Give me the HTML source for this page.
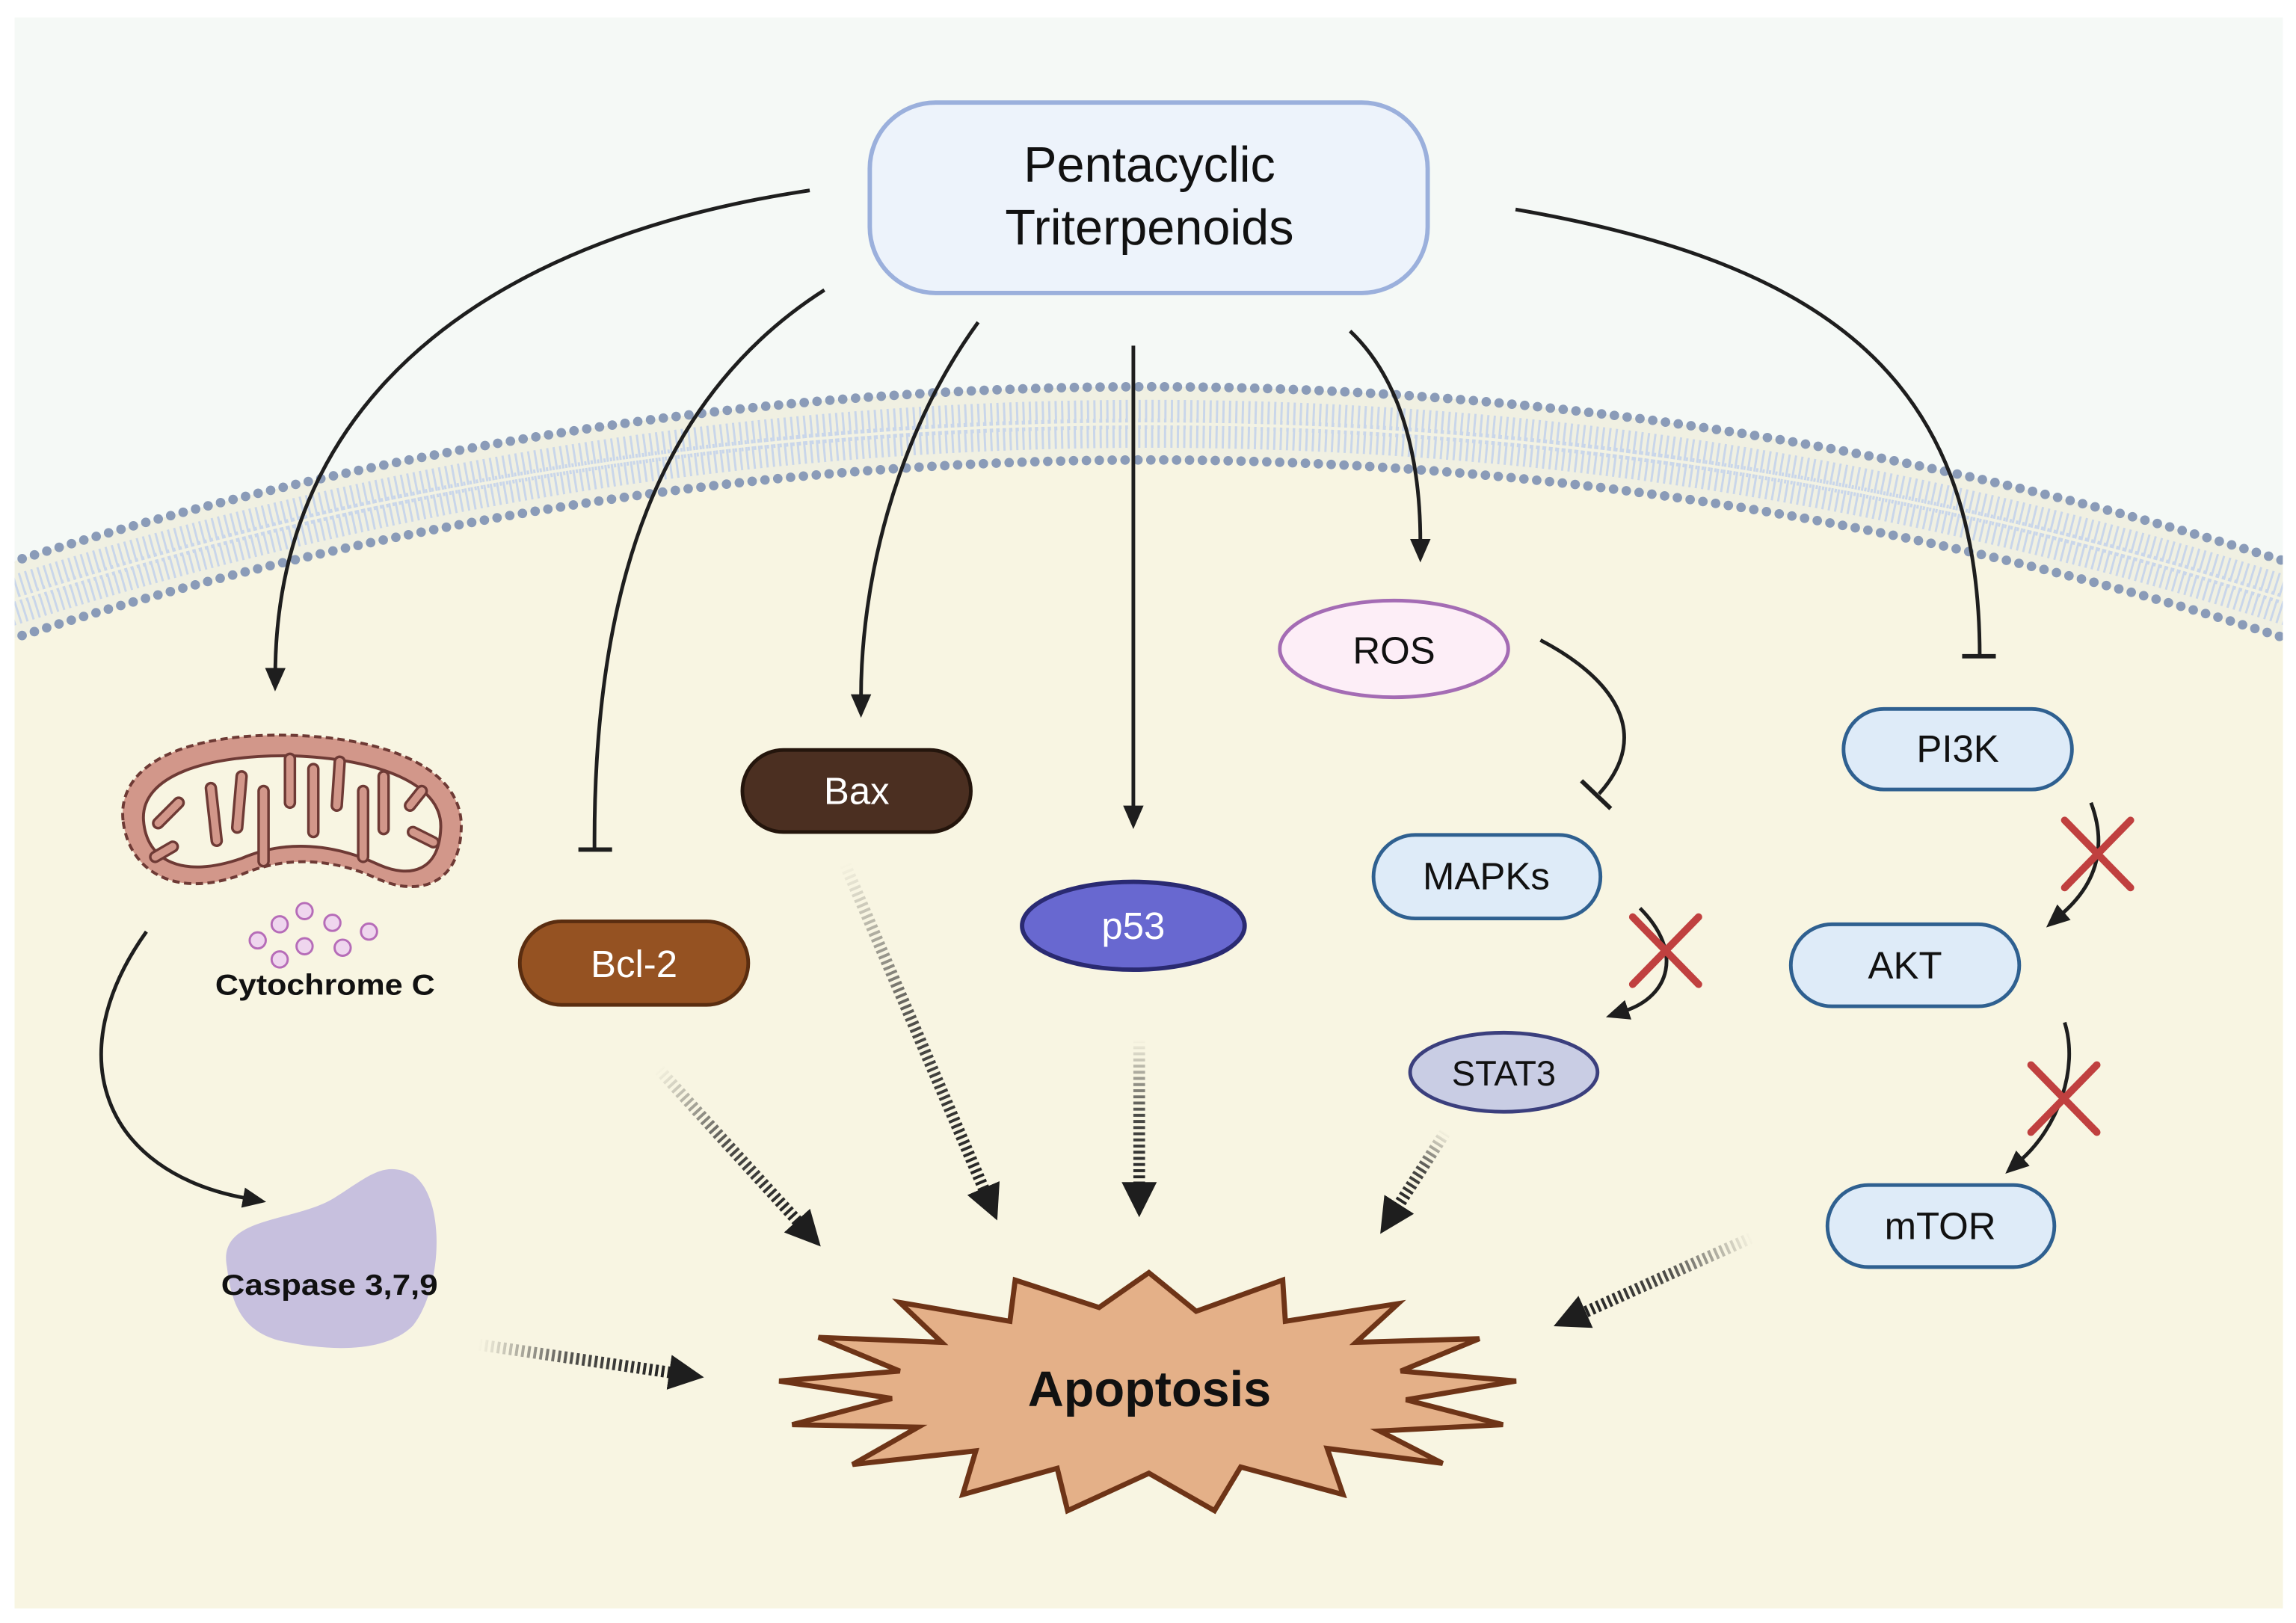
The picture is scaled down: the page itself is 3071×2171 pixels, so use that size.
<!DOCTYPE html>
<html><head><meta charset="utf-8"><style>
html,body{margin:0;padding:0;background:#fff;width:3071px;height:2171px;overflow:hidden;position:relative;}
svg{display:block;position:absolute;left:0;top:0;}
text{font-family:"Liberation Sans",sans-serif;}
</style></head><body>
<svg width="3071" height="2171" viewBox="0 0 1568 1108" preserveAspectRatio="none" xmlns="http://www.w3.org/2000/svg">
<defs>
<clipPath id="panel"><rect x="10" y="12" width="1549" height="1086"/></clipPath>
<marker id="ah" markerUnits="userSpaceOnUse" markerWidth="20" markerHeight="20" refX="2" refY="8" orient="auto"><path d="M0,1 L16,8 L0,15 Z" fill="#1e1e1e"/></marker>
<marker id="bh" markerUnits="userSpaceOnUse" markerWidth="30" markerHeight="30" refX="1" refY="12" orient="auto"><path d="M0,0 L24,12 L0,24 Z" fill="#1e1e1e"/></marker>
<linearGradient id="g1" gradientUnits="userSpaceOnUse" x1="450" y1="730" x2="545" y2="834"><stop offset="0" stop-color="#222" stop-opacity="0"/><stop offset="0.5" stop-color="#222" stop-opacity="0.8"/><stop offset="1" stop-color="#222"/></linearGradient>
<linearGradient id="g2" gradientUnits="userSpaceOnUse" x1="577" y1="590" x2="672" y2="812"><stop offset="0" stop-color="#222" stop-opacity="0"/><stop offset="0.5" stop-color="#222" stop-opacity="0.8"/><stop offset="1" stop-color="#222"/></linearGradient>
<linearGradient id="g3" gradientUnits="userSpaceOnUse" x1="778" y1="710" x2="778" y2="810"><stop offset="0" stop-color="#222" stop-opacity="0"/><stop offset="0.5" stop-color="#222" stop-opacity="0.8"/><stop offset="1" stop-color="#222"/></linearGradient>
<linearGradient id="g4" gradientUnits="userSpaceOnUse" x1="987" y1="773" x2="955" y2="823"><stop offset="0" stop-color="#222" stop-opacity="0"/><stop offset="0.5" stop-color="#222" stop-opacity="0.8"/><stop offset="1" stop-color="#222"/></linearGradient>
<linearGradient id="g5" gradientUnits="userSpaceOnUse" x1="1196" y1="845" x2="1082" y2="896"><stop offset="0" stop-color="#222" stop-opacity="0"/><stop offset="0.5" stop-color="#222" stop-opacity="0.8"/><stop offset="1" stop-color="#222"/></linearGradient>
<linearGradient id="g6" gradientUnits="userSpaceOnUse" x1="327" y1="918" x2="458" y2="937"><stop offset="0" stop-color="#222" stop-opacity="0"/><stop offset="0.5" stop-color="#222" stop-opacity="0.8"/><stop offset="1" stop-color="#222"/></linearGradient>
</defs>

<g clip-path="url(#panel)">
<rect x="0" y="0" width="1568" height="1108" fill="#f5f9f6"/>
<circle cx="785" cy="2847" r="2583" fill="#f0f0e2"/>
<circle cx="785" cy="2847" r="2533" fill="#f8f5e2"/>
<path d="M-10,409 A2570 2570 0 0 1 1580,409" fill="none" stroke="#c9d6ea" stroke-width="20" stroke-dasharray="1.5 2.9"/>
<path d="M-10,423 A2546 2546 0 0 1 1580,423" fill="none" stroke="#c9d6ea" stroke-width="20" stroke-dasharray="1.5 2.9"/>
<path d="M-10,416 A2558 2558 0 0 1 1580,416" fill="none" stroke="#f2f2e4" stroke-width="2"/>
<path d="M-10,389.4 A2583 2583 0 0 1 1580,389.4" fill="none" stroke="#8a9bb8" stroke-width="6.5" stroke-linecap="round" stroke-dasharray="0 8.8"/>
<path d="M-10,442 A2533 2533 0 0 1 1580,442" fill="none" stroke="#8a9bb8" stroke-width="6.5" stroke-linecap="round" stroke-dasharray="0 8.8"/>
</g>

<g fill="none" stroke="#1e1e1e" stroke-width="2.5">
<path d="M553,130 C350,160 190,260 188,458" marker-end="url(#ah)"/>
<path d="M563,198 C450,270 405,400 406,580"/>
<path d="M395,580 L418,580" stroke-width="3"/>
<path d="M668,220 C610,300 588,400 588,476" marker-end="url(#ah)"/>
<path d="M774,236 L774,552" marker-end="url(#ah)"/>
<path d="M922,226 C960,262 970,320 970,370" marker-end="url(#ah)"/>
<path d="M1035,143 C1250,180 1352,260 1352,448"/>
<path d="M1340,448 L1363,448" stroke-width="3"/>
<path d="M1052,437 C1100,462 1130,500 1092,542"/>
<path d="M1080,533 L1100,552" stroke-width="3"/>
<path d="M1120,620 C1150,650 1140,680 1110,690" marker-end="url(#ah)"/>
<path d="M1428,548 C1440,580 1430,605 1408,624" marker-end="url(#ah)"/>
<path d="M1410,698 C1420,730 1405,770 1380,792" marker-end="url(#ah)"/>
<path d="M100,636 C40,720 70,800 168,818" marker-end="url(#ah)"/>
</g>

<g stroke="#c0403f" stroke-width="5" stroke-linecap="round">
<path d="M1115,626 L1160,672 M1160,626 L1115,672"/>
<path d="M1410,560 L1455,606 M1455,560 L1410,606"/>
<path d="M1387,727 L1432,773 M1432,727 L1387,773"/>
</g>

<g fill="none" stroke-width="8" stroke-dasharray="2 2.2">
<line x1="450" y1="730" x2="545" y2="834" stroke="url(#g1)" marker-end="url(#bh)"/>
<line x1="577" y1="590" x2="672" y2="812" stroke="url(#g2)" marker-end="url(#bh)"/>
<line x1="778" y1="710" x2="778" y2="808" stroke="url(#g3)" marker-end="url(#bh)"/>
<line x1="987" y1="773" x2="955" y2="823" stroke="url(#g4)" marker-end="url(#bh)"/>
<line x1="1196" y1="845" x2="1082" y2="896" stroke="url(#g5)" marker-end="url(#bh)"/>
<line x1="327" y1="918" x2="458" y2="937" stroke="url(#g6)" marker-end="url(#bh)"/>
</g>

<rect x="594" y="70" width="381" height="130" rx="45" fill="#edf3fb" stroke="#9bb0dc" stroke-width="3"/>
<text x="785" y="124" font-size="34" text-anchor="middle" fill="#111">Pentacyclic</text>
<text x="785" y="167" font-size="34" text-anchor="middle" fill="#111">Triterpenoids</text>

<ellipse cx="952" cy="443" rx="78" ry="33" fill="#fdeef7" stroke="#a46cb4" stroke-width="2.5"/>
<text x="952" y="453" font-size="26" text-anchor="middle" fill="#111">ROS</text>

<g fill="#deebf8" stroke="#2f6090" stroke-width="2.5">
<rect x="1259" y="484" width="156" height="55" rx="27.5"/>
<rect x="938" y="570" width="155" height="57" rx="28.5"/>
<rect x="1223" y="631" width="156" height="56" rx="28"/>
<rect x="1248" y="809" width="155" height="56" rx="28"/>
</g>
<g font-size="26" text-anchor="middle" fill="#111">
<text x="1337" y="520">PI3K</text>
<text x="1015" y="607">MAPKs</text>
<text x="1301" y="668">AKT</text>
<text x="1325" y="846">mTOR</text>
</g>

<ellipse cx="1027" cy="732" rx="64" ry="27" fill="#c9cde4" stroke="#3b3f7d" stroke-width="2.5"/>
<text x="1027" y="741" font-size="24" text-anchor="middle" fill="#111">STAT3</text>

<ellipse cx="774" cy="632" rx="76" ry="30" fill="#6868d0" stroke="#2a2a72" stroke-width="3"/>
<text x="774" y="641" font-size="26" text-anchor="middle" fill="#fff">p53</text>

<rect x="507" y="512" width="156" height="56" rx="28" fill="#4b2f21" stroke="#24150c" stroke-width="2.5"/>
<text x="585" y="549" font-size="26" text-anchor="middle" fill="#fff">Bax</text>

<rect x="355" y="629" width="156" height="57" rx="28.5" fill="#955222" stroke="#5a2d10" stroke-width="2.5"/>
<text x="433" y="667" font-size="26" text-anchor="middle" fill="#fff">Bcl-2</text>

<path d="M84,560 C80,520 130,500 200,502 C265,504 316,525 315,565 C314,605 285,612 258,600 C228,586 195,584 165,597 C120,614 88,595 84,560Z" fill="#d2978a" stroke="#6e3a35" stroke-width="2" stroke-dasharray="5 3"/>
<path d="M98,560 C96,530 140,515 200,516 C258,518 302,535 301,565 C300,595 280,600 258,590 C228,576 195,573 165,586 C125,600 100,588 98,560Z" fill="#f8f5e2" stroke="#6e3a35" stroke-width="2"/>
<g stroke-linecap="round" fill="none">
<g stroke="#6e3a35" stroke-width="8.5">
<path d="M122,548 L108,562"/><path d="M144,538 L148,574"/><path d="M165,530 L162,565"/><path d="M180,540 L180,588"/><path d="M198,518 L198,548"/><path d="M214,525 L214,568"/><path d="M232,520 L230,550"/><path d="M248,540 L248,585"/><path d="M262,530 L262,566"/><path d="M280,550 L288,540"/><path d="M282,568 L296,575"/><path d="M118,578 L106,585"/>
</g>
<g stroke="#d2978a" stroke-width="5">
<path d="M122,548 L108,562"/><path d="M144,538 L148,574"/><path d="M165,530 L162,565"/><path d="M180,540 L180,588"/><path d="M198,518 L198,548"/><path d="M214,525 L214,568"/><path d="M232,520 L230,550"/><path d="M248,540 L248,585"/><path d="M262,530 L262,566"/><path d="M280,550 L288,540"/><path d="M282,568 L296,575"/><path d="M118,578 L106,585"/>
</g>
</g>
<g fill="#efd6ee" stroke="#b66cb8" stroke-width="1.5">
<circle cx="191" cy="631" r="5.5"/><circle cx="208" cy="622" r="5.5"/><circle cx="227" cy="630" r="5.5"/>
<circle cx="176" cy="642" r="5.5"/><circle cx="208" cy="646" r="5.5"/><circle cx="234" cy="647" r="5.5"/>
<circle cx="252" cy="636" r="5.5"/><circle cx="191" cy="655" r="5.5"/>
</g>
<text x="222" y="679" font-size="20" font-weight="bold" text-anchor="middle" fill="#111" textLength="150" lengthAdjust="spacingAndGlyphs">Cytochrome C</text>

<path d="M155,865 C148,830 200,835 228,818 C252,803 262,792 282,802 C305,818 302,880 282,905 C262,925 220,922 190,915 C165,908 158,890 155,865Z" fill="#c7c0de"/>
<text x="225" y="884" font-size="20" font-weight="bold" text-anchor="middle" fill="#111" textLength="148" lengthAdjust="spacingAndGlyphs">Caspase 3,7,9</text>

<polygon points="784.6,868.8 816.9,895.2 876,873.9 877.8,902 954.8,890 926.1,916.4 1010.3,913.9 956.6,936 1035.4,942.8 960.2,955.6 1026.4,972.6 942.2,976.9 985.2,999 906.4,988.8 917.2,1020.3 847.3,1001.5 829.4,1031.3 784.6,1005.8 729.1,1031.3 722,1002.4 657.5,1020.3 666.4,990.5 582.2,999.8 627,974.3 541,972.6 609.1,954.7 532.1,942.8 614.5,936 559,913 643.1,916.4 614.5,889.2 689.7,902 693.3,873.9 750.6,892.6" fill="#e4b088" stroke="#6e3417" stroke-width="3.5" stroke-linejoin="miter"/>
<text x="785" y="960" font-size="34" font-weight="bold" text-anchor="middle" fill="#111">Apoptosis</text>
</svg>
</body></html>
